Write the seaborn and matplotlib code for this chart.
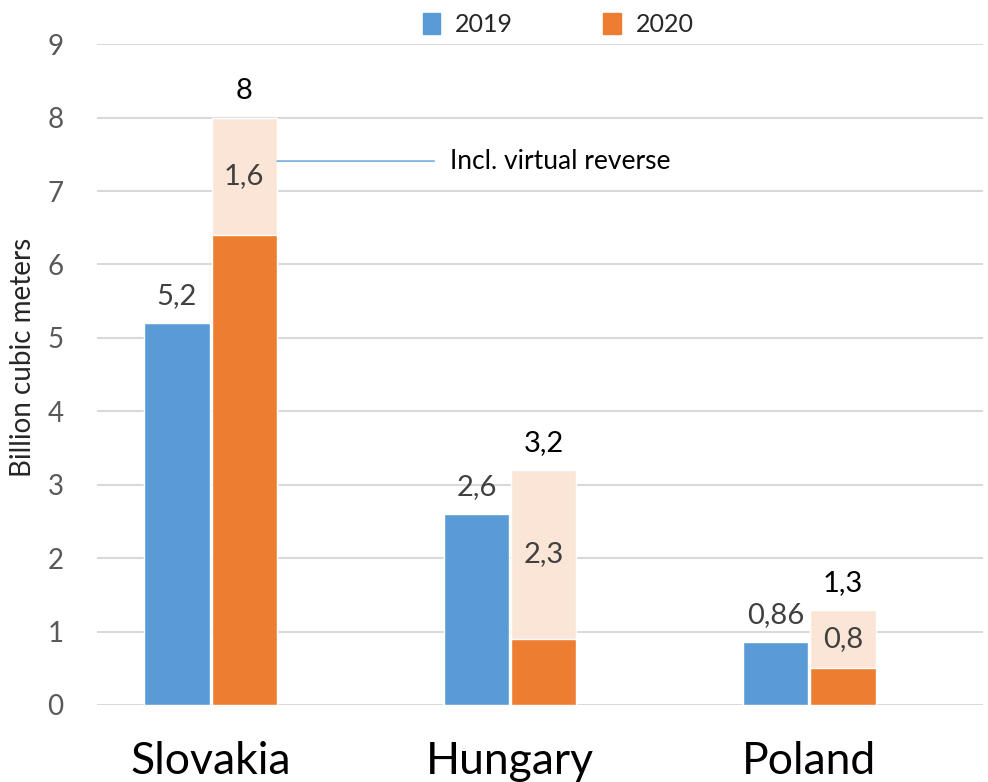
#import libraries
import pandas as pd
import numpy as np
import seaborn as sns
import matplotlib.pyplot as plt
from matplotlib.patches import Patch

#chart data
countries = ['Slovakia', 'Hungary', 'Poland']
years = ['2019', '2020']
flow_2019 = [5.2, 2.6, 0.86]
flow_2020_base = [6.4, 0.9, 0.5]
virtual_reverse = [1.6, 2.3, 0.8]
flow_2020_total = [8, 3.2, 1.3]
labels_2019 = ['5,2', '2,6', '0,86']
labels_total = ['8', '3,2', '1,3']
labels_reverse = ['1,6', '2,3', '0,8']

blue = '#5B9BD5'
orange = '#ED7D31'
peach = '#FBE5D6'

#long format tables for seaborn
df_total = pd.DataFrame({
    'country': countries * 2,
    'year': ['2019'] * 3 + ['2020'] * 3,
    'value': flow_2019 + flow_2020_total,
})
df_base = pd.DataFrame({
    'country': countries * 2,
    'year': ['2019'] * 3 + ['2020'] * 3,
    'value': flow_2019 + flow_2020_base,
})

sns.set_style('white')
plt.rcParams['font.family'] = ['Lato', 'DejaVu Sans']

fig = plt.figure(figsize=(9.88, 7.82), dpi=100)
ax = fig.add_axes([0.098, 0.0985, 0.897, 0.845])

#full 2020 bar in peach (virtual reverse on top), then base values over it
sns.barplot(data=df_total, x='country', y='value', hue='year', order=countries,
            hue_order=years, palette=[blue, peach], width=0.45, gap=0.03,
            saturation=1, legend=False, ax=ax, zorder=2)
sns.barplot(data=df_base, x='country', y='value', hue='year', order=countries,
            hue_order=years, palette=[blue, orange], width=0.45, gap=0.03,
            saturation=1, legend=False, ax=ax, zorder=3)

ax.set_ylim(0, 9)
ax.set_xlim(-0.38, 2.58)
ax.set_yticks(range(0, 10))
ax.yaxis.grid(True, color='#D9D9D9', linewidth=1.5, zorder=0)
ax.set_axisbelow(True)
sns.despine(ax=ax, left=True, bottom=True)
ax.tick_params(axis='y', labelsize=20, labelcolor='#595959', length=0, pad=24)
ax.tick_params(axis='x', labelsize=32, labelcolor='black', length=0, pad=26)
ax.set_xlabel('')
ax.set_ylabel('Billion cubic meters', fontsize=20)
ax.yaxis.set_label_coords(-0.069, 0.526)

#value labels
blue_bars = ax.containers[0]
peach_bars = ax.containers[1]
for i, bar in enumerate(blue_bars):
    xc = bar.get_x() + bar.get_width() / 2
    ax.annotate(labels_2019[i], (xc, flow_2019[i]), xytext=(0, 10),
                textcoords='offset points', ha='center', va='bottom',
                fontsize=21, color='#404040')
for i, bar in enumerate(peach_bars):
    xc = bar.get_x() + bar.get_width() / 2
    ax.annotate(labels_total[i], (xc, flow_2020_total[i]), xytext=(0, 10),
                textcoords='offset points', ha='center', va='bottom',
                fontsize=21, color='black')
    ax.text(xc, flow_2020_base[i] + virtual_reverse[i] / 2, labels_reverse[i],
            ha='center', va='center', fontsize=21, color='#404040', zorder=5)

#callout for virtual reverse
sk_bar = peach_bars[0]
x0 = sk_bar.get_x() + sk_bar.get_width()
y_call = flow_2020_base[0] + virtual_reverse[0] * 0.63
ax.annotate('Incl. virtual reverse', xy=(x0, y_call), xytext=(0.8, y_call),
            fontsize=19, color='black', va='center', ha='left',
            arrowprops=dict(arrowstyle='-', color=blue, lw=1,
                            shrinkA=9, shrinkB=0))

#legend on top
handles = [Patch(color=blue, label='2019'), Patch(color=orange, label='2020')]
fig.legend(handles=handles, loc='upper center', bbox_to_anchor=(0.565, 1.012),
           ncol=2, frameon=False, fontsize=18, handlelength=0.7,
           handleheight=0.9, handletextpad=0.6, columnspacing=3.6)

plt.savefig('out.png', dpi=100)
